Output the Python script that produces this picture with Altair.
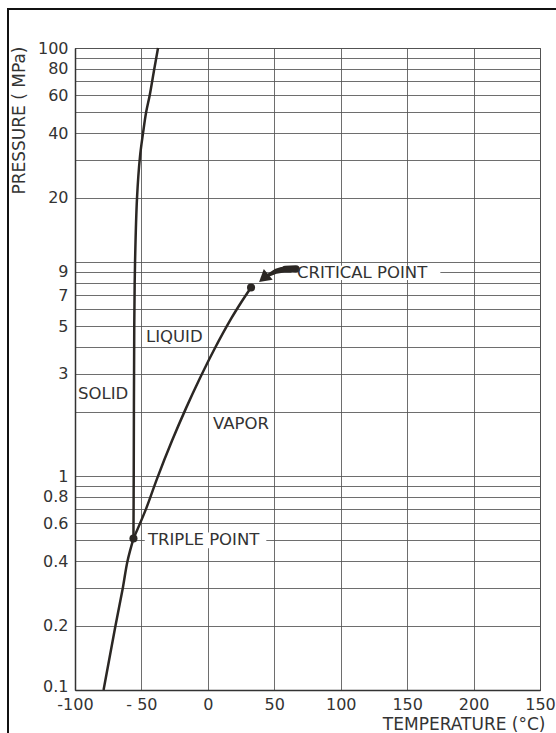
import altair as alt
import pandas as pd

# ---- data ----
x_ticks = [-100, -50, 0, 50, 100, 150, 200, 250]
y_grid = [0.1, 0.2, 0.3, 0.4, 0.5, 0.6, 0.7, 0.8, 0.9,
          1, 2, 3, 4, 5, 6, 7, 8, 9,
          10, 20, 30, 40, 50, 60, 70, 80, 90, 100]
y_labelled = [0.1, 0.2, 0.4, 0.6, 0.8, 1, 3, 5, 7, 9, 20, 40, 60, 80, 100]

sub_T = [-78.5, -69.5, -64.0, -60.5, -56.0]
sub_P = [0.1, 0.2, 0.3, 0.4, 0.51]

vap_T = [-56.0, -46.6, -38.3, -27.0, -16.5, -5.9, 4.6, 17.4, 24.9, 32.5]
vap_P = [0.51, 0.70, 0.97, 1.46, 2.07, 2.87, 3.88, 5.42, 6.45, 7.6]

mel_T = [-56.0, -55.8, -55.4, -54.8, -53.3, -51.1, -48.8, -46.5, -43.8, -40.3, -37.5]
mel_P = [0.51, 1.0, 5.0, 10.0, 20.0, 31.0, 40.0, 50.0, 60.0, 80.0, 100.0]

pts_T = [-56.0, 32.5]
pts_P = [0.51, 7.6]

arrow_T = [66.3, 58.1, 51.3, 45.8]
arrow_P = [9.27, 9.27, 9.05, 8.7]
arrow_w = [7.5, 6.5, 5.0, 3.5]
head_T = [42.0]
head_P = [8.4]

label_text = ["SOLID", "LIQUID", "VAPOR", "CRITICAL POINT", "TRIPLE POINT"]
label_T = [-97.7, -46.6, 3.9, 67.1, -45.1]
label_P = [2.42, 4.46, 1.75, 8.89, 0.502]

box_T = [63.0, -47.5]
box_T2 = [175.0, 44.0]
box_P = [8.24, 0.46]
box_P2 = [9.6, 0.545]

# ---- tables ----
curves = pd.DataFrame(
    [{"curve": "sub", "T": t, "P": p, "o": i} for i, (t, p) in enumerate(zip(sub_T, sub_P))]
    + [{"curve": "vap", "T": t, "P": p, "o": i} for i, (t, p) in enumerate(zip(vap_T, vap_P))]
    + [{"curve": "mel", "T": t, "P": p, "o": i} for i, (t, p) in enumerate(zip(mel_T, mel_P))]
)
pts = pd.DataFrame({"T": pts_T, "P": pts_P})
arrow = pd.DataFrame({"T": arrow_T, "P": arrow_P, "w": arrow_w, "o": range(len(arrow_T))})
head = pd.DataFrame({"T": head_T, "P": head_P})
labels = pd.DataFrame({"text": label_text, "T": label_T, "P": label_P})
boxes = pd.DataFrame({"T": box_T, "T2": box_T2, "P": box_P, "P2": box_P2})

ink = "#2b2724"
txt = "#333333"

lab_list = ",".join(str(v) for v in y_labelled)

X = alt.X(
    "T:Q",
    scale=alt.Scale(domain=[-100, 250], nice=False, zero=False),
    axis=alt.Axis(
        values=x_ticks,
        labelExpr="datum.value == 250 ? '150' : (datum.value == -50 ? '- 50' : (datum.value < 0 ? '-' + abs(datum.value) : '' + datum.value))",
        title="TEMPERATURE (°C)",
        titleX=470, titleY=39, titleAlign="right", titleBaseline="alphabetic",
        titleAnchor="end", titleFontSize=17,
        ticks=False, labelPadding=6, labelFlush=False, labelOverlap=False,
    ),
)
Y = alt.Y(
    "P:Q",
    scale=alt.Scale(type="log", domain=[0.1, 100], nice=False),
    axis=alt.Axis(
        values=y_grid,
        labelExpr="indexof([" + lab_list + "], datum.value) >= 0 ? format(datum.value, '~g') : ''",
        title="PRESSURE ( MPa)",
        titleAngle=270, titleX=-64, titleY=-2, titleAlign="right", titleBaseline="top",
        titleFontSize=17,
        ticks=False, labelPadding=7, labelBaseline="middle",
        labelOffset={"condition": {"test": "datum.value == 0.1", "value": -4}, "value": 0},
        labelFlush=False, labelOverlap=False,
    ),
)

box_layer = alt.Chart(boxes).mark_rect(fill="white").encode(
    x=X, x2="T2:Q", y=Y, y2="P2:Q"
)

curve_layer = alt.Chart(curves).mark_line(
    color=ink, strokeWidth=2.5, interpolate="catmull-rom"
).encode(x=X, y=Y, detail="curve:N", order="o:Q")

pt_layer = alt.Chart(pts).mark_circle(color=ink, opacity=1, size=65).encode(x=X, y=Y)

arrow_layer = alt.Chart(arrow).mark_trail(color=ink).encode(
    x=X, y=Y, size=alt.Size("w:Q", scale=None, legend=None), order="o:Q"
)
head_layer = alt.Chart(head).mark_point(
    shape="triangle-up", filled=True, color=ink, opacity=1, size=190, angle=230
).encode(x=X, y=Y)

text_layer = alt.Chart(labels).mark_text(
    align="left", baseline="middle", fontSize=16.5, color=txt, font="DejaVu Sans"
).encode(x=X, y=Y, text="text:N")

frame = alt.Chart(pts).mark_rect(fill=None, stroke="#111", strokeWidth=2).encode(
    x=alt.value(-67), x2=alt.value(495), y=alt.value(-39), y2=alt.value(700)
)

chart = alt.layer(
    box_layer, curve_layer, pt_layer, arrow_layer, head_layer, text_layer, frame
).properties(
    width=465, height=642,
    autosize=alt.AutoSizeParams(type="none"),
    padding={"left": 75, "top": 48, "right": 16, "bottom": 43},
    background="white",
).configure(
    font="DejaVu Sans",
).configure_axis(
    labelFontSize=16, labelColor=txt, labelFont="DejaVu Sans",
    titleColor=txt, titleFontWeight="normal", titleFont="DejaVu Sans",
    gridColor="#555555", gridWidth=1, gridOpacity=0.85,
    domainColor="#333333", domainWidth=1.5,
).configure_view(
    stroke="#444444", strokeWidth=1,
)

chart.save("out.html", embed_options={"renderer": "svg", "actions": False})
